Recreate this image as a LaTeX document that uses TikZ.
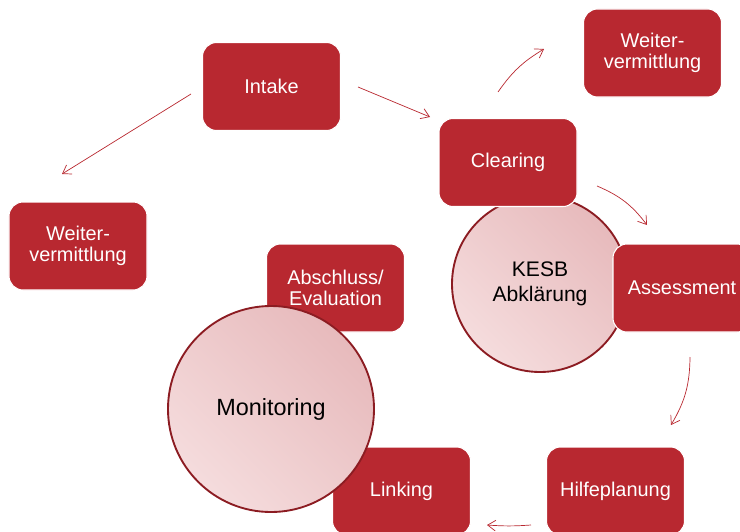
\documentclass[tikz,border=0pt]{standalone}
\usepackage{fontspec}
\setmainfont{Liberation Sans}
\usetikzlibrary{arrows.meta,calc}
\definecolor{boxred}{RGB}{184,40,48}
\definecolor{ringred}{RGB}{140,28,34}
\definecolor{pinklight}{RGB}{245,220,221}
\definecolor{pinkdark}{RGB}{231,186,188}
\tikzset{
  stepbox/.style={rectangle, rounded corners=0.42cm, fill=boxred, draw=white,
    line width=0.9pt, minimum width=4.14cm, minimum height=2.64cm, inner sep=0pt,
    text=white, align=center, font=\fontsize{17}{18}\selectfont},
  phase/.style={circle, draw=ringred, line width=1.6pt, inner sep=0pt,
    left color=pinklight, right color=pinkdark, shading angle=135,
    text=black, align=center},
  flow/.style={draw=boxred, line width=0.6pt,
    -{Straight Barb[length=2.4mm,width=3.2mm]}}
}

\begin{document}
\begin{tikzpicture}[x=0.03cm, y=-0.03cm]
			%%%%% START %%%%%
			\useasboundingbox (0,0) rectangle (740,531);
			\clip (0,0) rectangle (740,531);
			
			\node[stepbox] (intake) at (271.5,86.5) {Intake};
			\node[stepbox] (weiterR) at (652.5,53) {Weiter-\\vermittlung};
			\node[stepbox] (weiterL) at (78,246) {Weiter-\\vermittlung};
			
			% KESB sits behind Clearing and Assessment
			\node[phase, minimum size=5.28cm, font=\fontsize{18}{21}\selectfont] (kesb) at (540,284) {KESB\\Abklärung};
			\node[stepbox] (clearing) at (508,162.5) {Clearing};
			\node[stepbox] (assess) at (682,288) {Assessment};
			
			% Monitoring lies on top of its neighbours
			\node[stepbox] (abschluss) at (335.5,288) {Abschluss/\\Evaluation};
			\node[stepbox] (linking) at (401.5,491) {Linking};
			\node[stepbox] (hilfe) at (615.5,491) {Hilfeplanung};
			\node[phase, minimum size=6.18cm, font=\fontsize{20}{24}\selectfont] (monitoring) at (271,409) {Monitoring};
			
			% arrow ends
			\coordinate (intakeL) at (191,94);
			\coordinate (weiterLin) at (62,174);
			\coordinate (intakeR) at (358,87);
			\coordinate (clearingIn) at (430,117);
			\coordinate (clearingUp) at (498,92);
			\coordinate (weiterRin) at (544,49);
			\coordinate (clearingR) at (597,186);
			\coordinate (assessIn) at (647,225);
			\coordinate (assessOut) at (690,357);
			\coordinate (hilfeIn) at (671,425);
			\coordinate (hilfeOut) at (531,525);
			\coordinate (linkingIn) at (487,525);
			
			\draw[flow] (intakeL) -- (weiterLin);
			\draw[flow] (intakeR) -- (clearingIn);
			\draw[flow] (clearingUp) to[bend left=12] (weiterRin);
			\draw[flow] (clearingR) to[bend left=15] (assessIn);
			\draw[flow] (assessOut) to[bend left=15] (hilfeIn);
			\draw[flow] (hilfeOut) to[bend left=4] (linkingIn);
			
			%%%%% END %%%%%
\end{tikzpicture}
\end{document}
